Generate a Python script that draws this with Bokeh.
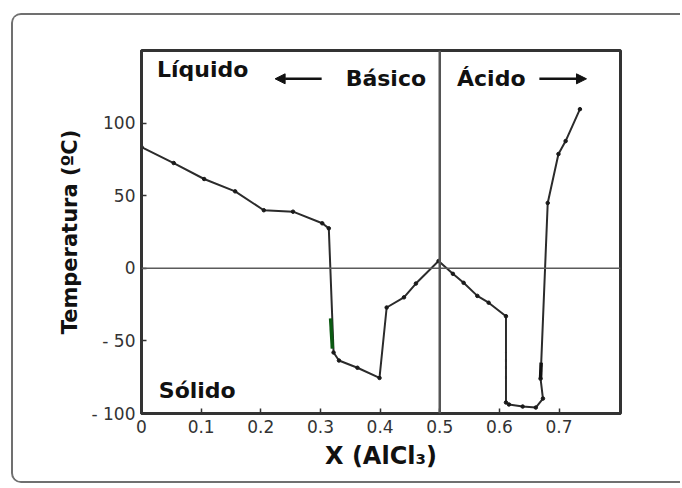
from bokeh.plotting import figure
from bokeh.models import Span, Label, Arrow, NormalHead, FixedTicker, Range1d
from bokeh.embed import file_html
from bokeh.resources import INLINE

# ---- data ----
x_alcl3 = [0.0, 0.054, 0.105, 0.157, 0.205, 0.254, 0.303, 0.314, 0.322, 0.331,
           0.362, 0.399, 0.411, 0.440, 0.460, 0.498, 0.522, 0.540, 0.563, 0.582,
           0.611, 0.611, 0.616, 0.639, 0.661, 0.673, 0.669, 0.681, 0.699, 0.711, 0.735]
temp_c = [83.5, 72.5, 61.5, 53, 40, 39, 31, 27.5, -58, -63.5,
          -68.5, -75.5, -27, -20, -10.5, 5, -3.8, -10, -19, -23.7,
          -33, -92.4, -93.8, -95.2, -95.9, -89.7, -76, 45, 78.7, 87.6, 109.6]

green_x = [0.317, 0.320]
green_t = [-34.5, -55.3]
dark_x = [0.670, 0.669]
dark_t = [-65, -76]

x_tick_values = [0, 0.1, 0.2, 0.3, 0.4, 0.5, 0.6, 0.7]
x_tick_labels = ["0", "0.1", "0.2", "0.3", "0.4", "0.5", "0.6", "0.7"]
y_tick_values = [-100, -50, 0, 50, 100]
y_tick_labels = ["- 100", "- 50", "0", "50", "100"]

region_texts = ["Líquido", "Básico", "Ácido", "Sólido"]
x_title = "X (AlCl₃)"
y_title = "Temperatura (ºC)"

FONT = "DejaVu Sans"
INK = "#2b2b2b"

p = figure(width=669, height=470,
           x_range=Range1d(0, 0.803), y_range=Range1d(-100, 150),
           output_backend="svg", toolbar_location=None,
           min_border_left=128, min_border_right=62,
           min_border_top=35, min_border_bottom=72,
           background_fill_color="white", border_fill_color="white",
           styles={"margin-left": "11px", "margin-top": "13px",
                   "border-left": "2px solid #707070",
                   "border-top": "2px solid #707070",
                   "border-bottom": "2px solid #707070",
                   "border-right": "none",
                   "border-top-left-radius": "10px",
                   "border-bottom-left-radius": "10px",
                   "overflow": "hidden"})

p.grid.visible = False
p.outline_line_color = "#333333"
p.outline_line_width = 3
p.outline_line_alpha = 1

for ax in (p.xaxis[0], p.yaxis[0]):
    ax.axis_line_color = "#333333"
    ax.axis_line_width = 3
    ax.major_tick_in = 5
    ax.major_tick_out = 0
    ax.minor_tick_in = 0
    ax.minor_tick_out = 0
    ax.major_tick_line_color = "#333333"
    ax.major_tick_line_width = 1.5
    ax.major_label_text_font = FONT
    ax.major_label_text_font_size = "17px"
    ax.major_label_text_color = "#333333"
    ax.axis_label_text_font = FONT
    ax.axis_label_text_font_style = "bold"
    ax.axis_label_text_color = "#111111"

p.xaxis.ticker = FixedTicker(ticks=x_tick_values)
p.xaxis.major_label_overrides = dict(zip(x_tick_values, x_tick_labels))
p.xaxis.axis_label = x_title
p.xaxis.axis_label_text_font_size = "24px"
p.xaxis.major_label_standoff = 6
p.xaxis.axis_label_standoff = 6

p.yaxis.ticker = FixedTicker(ticks=y_tick_values)
p.yaxis.major_label_overrides = dict(zip(y_tick_values, y_tick_labels))
p.yaxis.axis_label = y_title
p.yaxis.axis_label_text_font_size = "21px"
p.yaxis.major_label_standoff = 6
p.yaxis.axis_label_standoff = 7

# reference lines
p.add_layout(Span(location=0, dimension="width", line_color="#5a5a5a", line_width=1.6))
p.add_layout(Span(location=0.5, dimension="height", line_color="#555555", line_width=2.5))

# curve
p.line(x_alcl3, temp_c, line_color=INK, line_width=2)
p.scatter(x_alcl3, temp_c, size=3.5, color="#1a1a1a")
p.line(green_x, green_t, line_color="#0b5a12", line_width=3.5)
p.line(dark_x, dark_t, line_color="#111111", line_width=3.5)

# region labels
lab_kw = dict(text_font=FONT, text_font_style="bold", text_font_size="22px",
              text_color="#111111", text_baseline="middle")
p.add_layout(Label(x=0.026, y=137, text=region_texts[0], text_align="left", **lab_kw))
p.add_layout(Label(x=0.477, y=131, text=region_texts[1], text_align="right", **lab_kw))
p.add_layout(Label(x=0.529, y=131, text=region_texts[2], text_align="left", **lab_kw))
p.add_layout(Label(x=0.029, y=-84, text=region_texts[3], text_align="left", **lab_kw))

p.add_layout(Arrow(end=NormalHead(size=10, fill_color="#111111", line_color="#111111"),
                   x_start=0.302, y_start=130.5, x_end=0.224, y_end=130.5,
                   line_color="#111111", line_width=2.5))
p.add_layout(Arrow(end=NormalHead(size=10, fill_color="#111111", line_color="#111111"),
                   x_start=0.667, y_start=130.5, x_end=0.746, y_end=130.5,
                   line_color="#111111", line_width=2.5))

open("out.html", "w").write(file_html(p, INLINE))
